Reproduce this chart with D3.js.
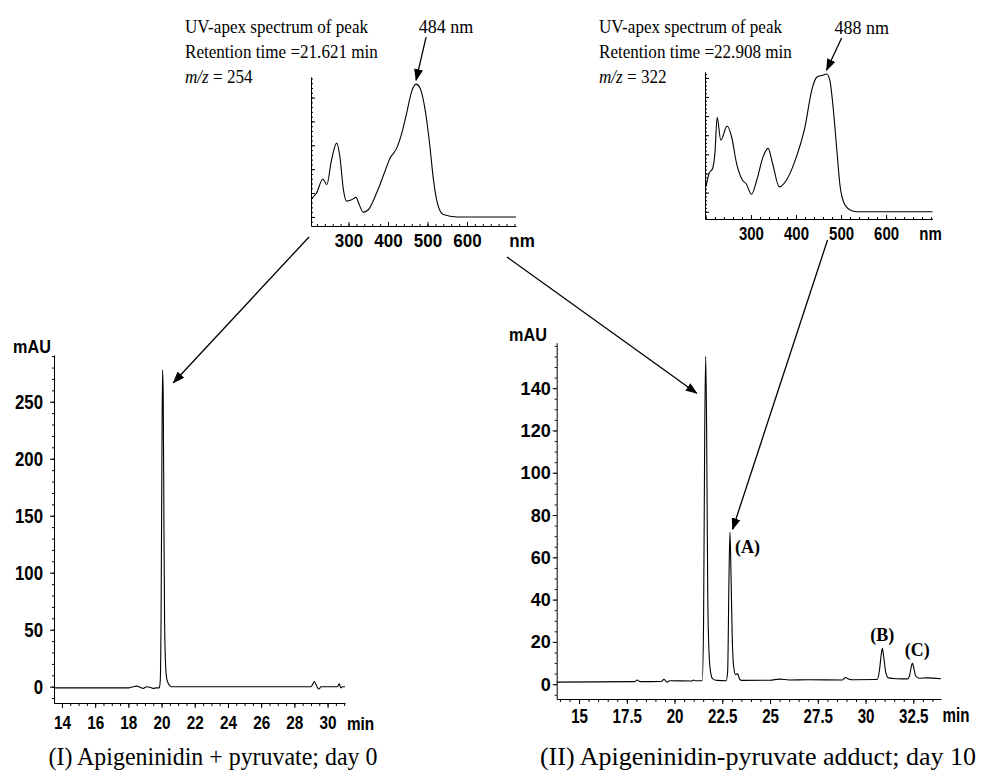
<!DOCTYPE html>
<html>
<head>
<meta charset="utf-8">
<script src="https://cdn.jsdelivr.net/npm/d3@7"></script>
<style>
  body { margin: 0; background: #fff; }
</style>
</head>
<body>
<svg id="fig" width="1004" height="784"></svg>
<script>
// chromatogram (I): apigeninidin + pyruvate, day 0
const timeI = [13.52, 18.0, 18.3, 18.5, 18.7, 18.9, 19.1, 19.3, 19.5, 19.7, 19.86, 19.92, 19.97, 20.02, 20.06,
  20.1, 20.14, 20.18, 20.24, 20.3, 20.4, 20.5, 20.6, 29.0, 29.1, 29.2, 29.3, 29.4, 29.5, 29.6, 30.6, 30.7, 30.8, 30.9, 31.05];
const mauI = [-1, -1, 0, 0.5, -0.5, -1.5, 0, -0.5, -1.5, -1, -1, 5, 60, 200, 278,
  255, 150, 60, 20, 8, 3, 1, 0, 0, 2, 4.5, 2, -1, -2, 0, 0, 2.5, -1, 0, 0];

// chromatogram (II): apigeninidin-pyruvate adduct, day 10
const timeII = [13.83, 17.9, 18.05, 18.2, 19.3, 19.45, 19.6, 19.75, 20.9, 21.0, 21.1, 21.45, 21.52, 21.58, 21.63,
  21.68, 21.74, 21.82, 21.9, 22.0, 22.2, 22.7, 22.78, 22.85, 22.9, 22.95, 23.02, 23.1, 23.2, 23.3, 23.4, 23.5,
  25.0, 25.5, 26.0, 27.0, 28.8, 28.95, 29.1, 29.3, 30.6, 30.72, 30.82, 30.88, 30.95, 31.05, 31.2, 31.6,
  32.2, 32.3, 32.4, 32.45, 32.52, 32.62, 32.8, 33.2, 33.95];
const mauII = [1.0, 1.2, 2.0, 1.2, 1.3, 2.3, 1.0, 1.6, 1.5, 2.0, 1.6, 1.6, 30, 120, 155,
  120, 40, 12, 5, 2.5, 1.8, 1.6, 6, 50, 72, 55, 22, 8, 4.5, 5, 2.5, 1.8,
  1.9, 2.4, 2.0, 2.1, 2.0, 3.2, 2.5, 2.1, 2.2, 6, 14, 17, 13, 6, 3, 2.6,
  2.5, 4, 8.5, 10, 8, 4, 2.8, 3, 2.6];

// UV-apex spectra
const nmSpecI = [205, 219, 235, 245, 257, 270, 278, 287, 295, 308, 319, 327, 337, 350, 371, 392, 405, 422, 435,
  447, 460, 471, 481, 494, 506, 515, 525, 540, 574, 724];
const absSpecI = [37.5, 50, 79.5, 67.5, 119.5, 154.5, 127, 57, 33, 36, 41, 26, 10, 15, 50, 95, 123, 144, 176,
  217, 263, 278, 270, 224, 148, 78, 29, 5, 0, 0];
const nmSpecII = [200, 207, 215, 220, 225, 233, 247, 257, 268, 281, 290, 301, 313, 327, 338, 348, 363, 379, 401,
  420, 435, 446, 461, 468, 475, 483, 490, 498, 507, 520, 535, 703];
const absSpecII = [13, 20, 22.7, 30.5, 49.3, 37.4, 44.8, 39.2, 25.3, 16.6, 14.4, 9.1, 16.6, 28.8, 33.1, 25.2, 13, 16.6, 28.8,
  44.4, 63.6, 70.3, 71.5, 72, 68.8, 53.1, 34, 13.1, 4.3, 0.9, 0, 0];

const ticksTimeI = [14, 16, 18, 20, 22, 24, 26, 28, 30];
const ticksMauI = [0, 50, 100, 150, 200, 250];
const ticksTimeII = [15, 17.5, 20, 22.5, 25, 27.5, 30, 32.5];
const ticksMauII = [0, 20, 40, 60, 80, 100, 120, 140];
const ticksNm = [300, 400, 500, 600];

const peakLabels = ['(A)', '(B)', '(C)'];
const peakTimes = [22.9, 30.88, 32.45];
const peakHeights = [72, 17, 10];

const specTitles = ['UV-apex spectrum of peak', 'UV-apex spectrum of peak'];
const specRt = ['Retention time =21.621 min', 'Retention time =22.908 min'];
const specMz = ['254', '322'];
const specApex = ['484 nm', '488 nm'];
const captions = ['(I) Apigeninidin + pyruvate; day 0', '(II) Apigeninidin-pyruvate adduct; day 10'];

const sans = '"Liberation Sans", Arial, sans-serif';
const serif = '"Liberation Serif", "Times New Roman", serif';

const svg = d3.select('#fig');

svg.append('defs').append('marker')
  .attr('id', 'head')
  .attr('markerUnits', 'userSpaceOnUse')
  .attr('markerWidth', 12).attr('markerHeight', 9)
  .attr('refX', 11).attr('refY', 4.5)
  .attr('orient', 'auto')
  .append('path').attr('d', 'M0,0 L12,4.5 L0,9 Z').attr('fill', '#000');

// scales
const xI = d3.scaleLinear().domain([13.52, 31.05]).range([54, 345]);
const yI = d3.scaleLinear().domain([-14.3, 291]).range([703, 355]);
const xII = d3.scaleLinear().domain([13.83, 33.95]).range([556.7, 941]);
const yII = d3.scaleLinear().domain([-7, 161.5]).range([699, 342.7]);
const xS1 = d3.scaleLinear().domain([205, 724]).range([311, 516]);
const yS1 = d3.scaleLinear().domain([-19, 293]).range([226, 77]);
const xS2 = d3.scaleLinear().domain([198, 703]).range([705, 932.5]);
const yS2 = d3.scaleLinear().domain([-3.8, 73.2]).range([219, 71.7]);

// narrow the glyphs, the figure was squeezed horizontally
function squeeze(sel, sx) {
  sel.each(function () {
    const t = d3.select(this);
    const x = +t.attr('x') || 0, y = +t.attr('y') || 0;
    t.attr('x', null).attr('y', null)
      .attr('transform', `translate(${x},${y}) scale(${sx},1)`);
  });
}

function note(x, y, txt, o = {}) {
  return svg.append('text')
    .attr('transform', `translate(${x},${y}) scale(${o.sx || 1},1)`)
    .attr('text-anchor', o.anchor || 'start')
    .attr('font-family', o.family || sans)
    .attr('font-size', o.size || 16)
    .attr('font-weight', o.weight || 'normal')
    .attr('fill', '#000')
    .text(txt);
}

function drawAxis(g, axisFn, scale, minor, major, o) {
  g.call(axisFn(scale).tickValues(minor).tickSize(o.minorSize).tickSizeOuter(0).tickFormat(''));
  const maj = g.append('g')
    .call(axisFn(scale).tickValues(major).tickSize(o.majorSize).tickSizeOuter(0)
      .tickPadding(o.pad || 3).tickFormat(o.fmt || (d => d)));
  maj.select('.domain').remove();
  maj.selectAll('text')
    .attr('font-family', sans).attr('font-weight', 'bold')
    .attr('font-size', o.size || 16).attr('fill', '#000');
  squeeze(maj.selectAll('text'), o.sx || 1);
  g.selectAll('path, line').attr('stroke', '#000').attr('stroke-width', 1);
}

function trace(xs, ys, x, y) {
  const line = d3.line().x(d => x(d[0])).y(d => y(d[1])).curve(d3.curveMonotoneX);
  svg.append('path')
    .datum(d3.zip(xs, ys))
    .attr('d', line)
    .attr('fill', 'none')
    .attr('stroke', '#000')
    .attr('stroke-width', 1.1);
}

function arrow(x1, y1, x2, y2) {
  svg.append('line')
    .attr('x1', x1).attr('y1', y1).attr('x2', x2).attr('y2', y2)
    .attr('stroke', '#000').attr('stroke-width', 1.3)
    .attr('marker-end', 'url(#head)');
}

// ---- chromatogram (I)
drawAxis(svg.append('g').attr('transform', `translate(${xI.range()[0]},0)`), d3.axisLeft, yI,
  d3.range(-10, 291, 10), ticksMauI, { minorSize: 2, majorSize: 4, pad: 7, size: 21, sx: 0.8 });
drawAxis(svg.append('g').attr('transform', `translate(0,${yI.range()[0]})`), d3.axisBottom, xI,
  d3.range(14, 31.01, 0.5), ticksTimeI, { minorSize: 3, majorSize: 5, pad: 8.7, size: 18, sx: 0.85 });
trace(timeI, mauI, xI, yI);
note(32, 353, 'mAU', { size: 18, weight: 'bold', anchor: 'middle', sx: 0.9 });
note(xI(30) + 33, yI.range()[0] + 27, 'min', { size: 18, weight: 'bold', anchor: 'middle', sx: 0.85 });

// ---- chromatogram (II)
drawAxis(svg.append('g').attr('transform', `translate(${xII.range()[0]},0)`), d3.axisLeft, yII,
  d3.range(-5, 161, 5), ticksMauII, { minorSize: 2, majorSize: 4, pad: 2, size: 19, sx: 0.95 });
drawAxis(svg.append('g').attr('transform', `translate(0,${yII.range()[0]})`), d3.axisBottom, xII,
  d3.range(14, 33.96, 0.5), ticksTimeII, { minorSize: 3, majorSize: 5, pad: 3.6, size: 21, sx: 0.72 });
trace(timeII, mauII, xII, yII);
note(528, 341, 'mAU', { size: 18, weight: 'bold', anchor: 'middle', sx: 0.9 });
note(956, yII.range()[0] + 23, 'min', { size: 21, weight: 'bold', anchor: 'middle', sx: 0.72 });

peakLabels.forEach((lab, i) => {
  const px = xII(peakTimes[i]), py = yII(peakHeights[i]);
  if (i === 0) note(px + 5, py + 21, lab, { family: serif, size: 18, weight: 'bold' });
  else note(px + (i === 2 ? 5 : 0), py - 7, lab, { family: serif, size: 18, weight: 'bold', anchor: 'middle' });
});

// ---- UV spectra insets
const insets = [
  { x: xS1, y: yS1, nm: nmSpecI, ab: absSpecI, minor: 10, major: 50, sx: 0.92, textX: 185, apexNm: 471, apexAb: 278, tail: [10, -43] },
  { x: xS2, y: yS2, nm: nmSpecII, ab: absSpecII, minor: 2, major: 10, sx: 0.81, textX: 599, apexNm: 468, apexAb: 72, tail: [15, -32] }
];

insets.forEach((s, k) => {
  const [x0, x1] = s.x.range();
  const yBot = s.y.range()[0];
  const yTicks = d3.range(Math.ceil(s.y.domain()[0] / s.minor) * s.minor, s.y.domain()[1], s.minor);
  drawAxis(svg.append('g').attr('transform', `translate(${x0},0)`), d3.axisRight, s.y,
    yTicks, yTicks.filter(v => v % s.major === 0), { minorSize: 2, majorSize: 4, fmt: () => '' });
  const nmTicks = d3.range(Math.ceil(s.x.domain()[0] / 20) * 20, s.x.domain()[1], 20);
  drawAxis(svg.append('g').attr('transform', `translate(0,${yBot})`), d3.axisBottom, s.x,
    nmTicks, ticksNm, { minorSize: -2, majorSize: -4, pad: 7.5, size: 18.5, sx: s.sx });
  note(x1 + (k === 0 ? 6 : -2), yBot + 20.5, 'nm', { size: 18.5, weight: 'bold', anchor: 'middle', sx: s.sx });
  trace(s.nm, s.ab, s.x, s.y);

  // header text
  note(s.textX, 33, specTitles[k], { family: serif, size: 18, sx: 0.95 });
  note(s.textX, 58, specRt[k], { family: serif, size: 18, sx: 0.95 });
  const mz = note(s.textX, 83, '', { family: serif, size: 18, sx: 0.95 });
  mz.append('tspan').attr('font-style', 'italic').text('m/z');
  mz.append('tspan').text(' = ' + specMz[k]);

  // apex arrow
  const tx = s.x(s.apexNm), ty = s.y(s.apexAb) - 4;
  arrow(tx + s.tail[0], ty + s.tail[1], tx, ty);
  note(tx + s.tail[0] + 20, ty + s.tail[1] - 4, specApex[k], { family: serif, size: 18, anchor: 'middle' });
});

// arrows from spectra to their peaks
arrow(xS1.range()[0] - 2, yS1.range()[0] + 11, xI(20.71), yI(266.7));
arrow(xS1.range()[1] - 9, yS1.range()[0] + 31, xII(21.16), yII(137.6));
arrow(xS2(470), yS2.range()[0] + 21, xII(23.04), yII(73.3));

// captions
note(213, 765, captions[0], { family: serif, size: 26, anchor: 'middle', sx: 0.92 });
note(758, 765, captions[1], { family: serif, size: 26, anchor: 'middle', sx: 1.0 });
</script>
</body>
</html>
